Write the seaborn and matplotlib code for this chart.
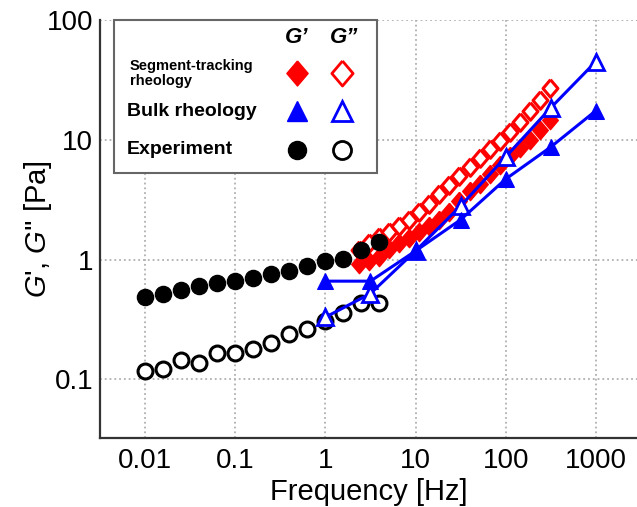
import matplotlib
matplotlib.use("Agg")
import matplotlib.pyplot as plt
from matplotlib.patches import Rectangle
import numpy as np
import pandas as pd
import seaborn as sns

# experiment (black circles)
exp_freq = [0.01, 0.0158, 0.0251, 0.0398, 0.0631, 0.1, 0.158, 0.251, 0.398, 0.631, 1.0, 1.58, 2.51, 3.98]
exp_g1 = [0.49, 0.52, 0.555, 0.60, 0.64, 0.656, 0.70, 0.76, 0.81, 0.88, 0.97, 1.02, 1.21, 1.41]
exp_g2 = [0.117, 0.121, 0.145, 0.136, 0.165, 0.165, 0.178, 0.20, 0.24, 0.264, 0.306, 0.355, 0.436, 0.43]

# bulk rheology (blue triangles)
bulk_freq = [1, 3.16, 10, 31.6, 100, 316, 1000]
bulk_g1 = [0.66, 0.66, 1.18, 2.15, 4.7, 8.7, 17.5]
bulk_g2 = [0.33, 0.52, 1.18, 2.8, 7.2, 18.5, 45]

# segment-tracking rheology (red diamonds)
seg_freq = [2.33, 3.01, 3.90, 5.05, 6.53, 8.45, 10.9, 14.2, 18.3, 23.7,
            30.7, 39.7, 51.4, 66.5, 86.1, 111, 144, 187, 242, 313]
seg_g1 = [0.92, 0.97, 1.06, 1.22, 1.38, 1.52, 1.7, 1.9, 2.15, 2.5,
          3.1, 3.7, 4.3, 5.2, 6.2, 7.3, 8.6, 10.0, 12.0, 14.7]
seg_g2 = [1.2, 1.38, 1.55, 1.7, 1.9, 2.15, 2.5, 2.9, 3.5, 4.2,
          5.0, 5.9, 7.0, 8.4, 9.8, 11.7, 14.2, 17.5, 21.5, 27.0]

xticks = [0.01, 0.1, 1, 10, 100, 1000]
xticklabels = ["0.01", "0.1", "1", "10", "100", "1000"]
yticks = [0.1, 1, 10, 100]
yticklabels = ["0.1", "1", "10", "100"]

sns.set_style("white")
plt.rcParams["font.family"] = ["Liberation Sans", "DejaVu Sans"]
plt.rcParams["mathtext.fontset"] = "custom"
plt.rcParams["mathtext.it"] = "Liberation Sans:italic"
plt.rcParams["mathtext.rm"] = "Liberation Sans"
plt.rcParams["text.color"] = "black"
plt.rcParams["axes.labelcolor"] = "black"
plt.rcParams["xtick.color"] = "black"
plt.rcParams["ytick.color"] = "black"

RED = "#ff0000"
BLUE = "#0000ff"
diamond = [(0, 1), (0.85, 0), (0, -1), (-0.85, 0), (0, 1)]

fig = plt.figure(figsize=(6.37, 5.07), dpi=100)
ax = fig.add_axes([100 / 637, 1 - 438 / 507, 537 / 637, 418 / 507])

# red diamonds
sns.scatterplot(x=seg_freq, y=seg_g1, marker=diamond, s=175, color=RED,
                edgecolor=RED, linewidth=1, ax=ax, zorder=3)
sns.scatterplot(x=seg_freq, y=seg_g2, marker=diamond, s=160, facecolor="white",
                edgecolor=RED, linewidth=2.2, ax=ax, zorder=3)

# black circles
sns.scatterplot(x=exp_freq, y=exp_g1, marker="o", s=135, color="black",
                edgecolor="black", linewidth=1, ax=ax, zorder=4)
sns.scatterplot(x=exp_freq, y=exp_g2, marker="o", s=115, facecolor="white",
                edgecolor="black", linewidth=2.2, ax=ax, zorder=4)

# blue triangles + lines
sns.lineplot(x=bulk_freq, y=bulk_g2, color=BLUE, linewidth=2.2, marker="^",
             markersize=12, markerfacecolor="white", markeredgecolor=BLUE,
             markeredgewidth=2, ax=ax, zorder=5)
sns.lineplot(x=bulk_freq, y=bulk_g1, color=BLUE, linewidth=2.2, marker="^",
             markersize=12, markerfacecolor=BLUE, markeredgecolor=BLUE, ax=ax, zorder=5)

ax.set_xscale("log")
ax.set_yscale("log")
ax.set_xlim(10 ** -2.5, 10 ** 3.456)
ax.set_ylim(10 ** -1.49, 100)
ax.set_xticks(xticks)
ax.set_xticklabels(xticklabels)
ax.set_yticks(yticks)
ax.set_yticklabels(yticklabels)
ax.minorticks_off()
ax.tick_params(direction="in", length=7, width=1.5, labelsize=20, color="#333333")
ax.tick_params(axis="x", pad=7)
ax.tick_params(axis="y", pad=5)
ax.grid(True, which="major", linestyle=":", color="#b0b0b0", linewidth=1.3)
ax.set_axisbelow(True)
for side in ["top", "right"]:
    ax.spines[side].set_visible(False)
for side in ["left", "bottom"]:
    ax.spines[side].set_linewidth(1.6)
    ax.spines[side].set_color("#333333")

ax.set_xlabel("Frequency [Hz]", fontsize=21)
ax.xaxis.set_label_coords(0.5, -0.095)
ax.set_ylabel("$G$', $G$'' [Pa]", fontsize=21)
ax.yaxis.set_label_coords(-0.085, 0.5)

# legend table
tr = ax.transAxes
ax.add_patch(Rectangle((0.026, 0.634), 0.49, 0.366, transform=tr, facecolor="white",
                       edgecolor="#666666", linewidth=1.5, zorder=10, clip_on=False))
ax.text(0.367, 0.957, "G’", transform=tr, ha="center", va="center", fontsize=16,
        fontweight="bold", fontstyle="italic", zorder=11)
ax.text(0.455, 0.957, "G”", transform=tr, ha="center", va="center", fontsize=16,
        fontweight="bold", fontstyle="italic", zorder=11)
ax.text(0.055, 0.873, "Segment-tracking\nrheology", transform=tr, ha="left", va="center",
        fontsize=10.5, fontweight="bold", linespacing=1.1, zorder=11)
ax.text(0.05, 0.782, "Bulk rheology", transform=tr, ha="left", va="center",
        fontsize=14, fontweight="bold", zorder=11)
ax.text(0.05, 0.69, "Experiment", transform=tr, ha="left", va="center",
        fontsize=14, fontweight="bold", zorder=11)
ax.plot([0.367], [0.873], transform=tr, marker=diamond, markersize=18, color=RED,
        markeredgewidth=1, zorder=11, clip_on=False)
ax.plot([0.451], [0.873], transform=tr, marker=diamond, markersize=18, markerfacecolor="white",
        markeredgecolor=RED, markeredgewidth=2, zorder=11, clip_on=False)
ax.plot([0.367], [0.782], transform=tr, marker="^", markersize=14, color=BLUE,
        zorder=11, clip_on=False)
ax.plot([0.451], [0.782], transform=tr, marker="^", markersize=14, markerfacecolor="white",
        markeredgecolor=BLUE, markeredgewidth=2, zorder=11, clip_on=False)
ax.plot([0.367], [0.69], transform=tr, marker="o", markersize=13, color="black",
        zorder=11, clip_on=False)
ax.plot([0.451], [0.69], transform=tr, marker="o", markersize=13, markerfacecolor="white",
        markeredgecolor="black", markeredgewidth=2, zorder=11, clip_on=False)

fig.savefig("out.png", dpi=100)
